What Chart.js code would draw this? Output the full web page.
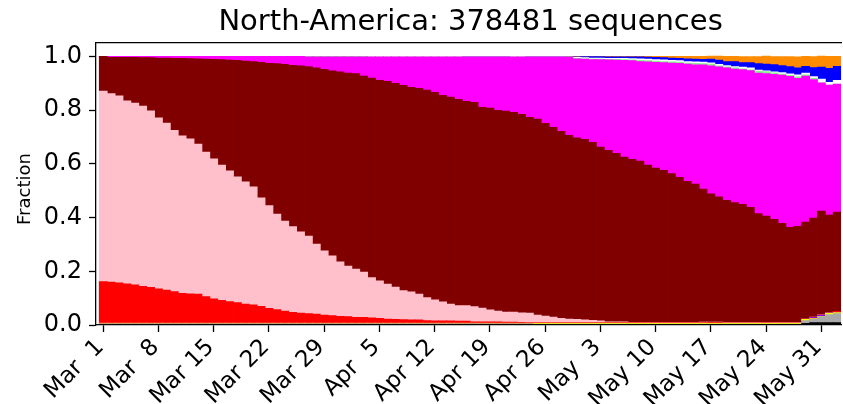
<!DOCTYPE html>
<html><head><meta charset="utf-8">
<script src="https://cdn.jsdelivr.net/npm/chart.js@4/dist/chart.umd.min.js"></script>
<style>html,body{margin:0;padding:0;background:#fff}canvas{display:block}</style>
</head><body>
<canvas id="c" width="843" height="404"></canvas>
<script>
const chartTitle = 'North-America: 378481 sequences';
const yLabel = 'Fraction';
const tickDays = [0,7,14,21,28,35,42,49,56,63,70,77,84,91];
const tickLabels = ['Mar  1','Mar  8','Mar 15','Mar 22','Mar 29','Apr  5','Apr 12','Apr 19','Apr 26','May  3','May 10','May 17','May 24','May 31'];
const yTicks = [0,0.2,0.4,0.6,0.8,1.0];

// one value per day, Mar 1 .. Jun 2 (94 days), stacked bottom -> top
const black = [
.002,.002,.002,.002,.002,.002,.002,.002,.002,.002,
.002,.002,.002,.002,.002,.002,.002,.002,.002,.002,
.002,.002,.002,.002,.002,.002,.002,.002,.002,.002,
.002,.002,.002,.002,.002,.002,.002,.002,.002,.002,
.002,.002,.002,.002,.002,.002,.002,.002,.002,.002,
.002,.002,.002,.002,.002,.001,.001,.001,.001,.001,
.001,.001,.001,.001,.001,.001,.001,.001,.001,.001,
.001,.001,.001,.001,.001,.001,.001,.001,.001,.001,
.001,.001,.001,.001,.001,.001,.001,.001,.001,.006,
.009,.009,.009,.009];
const gray = [
.001,.001,.001,.001,.001,.001,.001,.001,.001,.001,
.001,.001,.001,.001,.001,.001,.001,.001,.001,.001,
.001,.001,.001,.001,.001,.001,.001,.001,.001,.001,
.001,.001,.001,.001,.001,.001,.001,.001,.001,.001,
.001,.001,.001,.001,.001,.001,.001,.001,.001,.001,
.001,.001,.001,.001,.001,.002,.002,.002,.002,.002,
.002,.002,.002,.002,.002,.002,.002,.002,.002,.002,
.002,.002,.002,.002,.002,.002,.002,.002,.002,.002,
.002,.002,.002,.002,.002,.002,.002,.002,.002,.010,
.012,.022,.030,.033];
const yellow = [
.001,.001,.001,.001,.001,.001,.001,.001,.001,.001,
.001,.001,.001,.001,.001,.001,.001,.001,.001,.001,
.001,.001,.001,.001,.001,.001,.001,.001,.001,.001,
.001,.001,.001,.001,.001,.001,.001,.001,.001,.001,
.001,.001,.001,.001,.001,.001,.001,.001,.001,.001,
.001,.001,.001,.001,.001,.003,.003,.003,.003,.003,
.003,.003,.003,.003,.003,.003,.003,.003,.003,.003,
.003,.003,.003,.003,.003,.003,.003,.003,.003,.003,
.003,.003,.003,.003,.003,.003,.003,.003,.003,.005,
.003,.001,.004,.004];
const purple = [
.001,.001,.001,.001,.001,.001,.001,.001,.001,.001,
.001,.001,.001,.001,.001,.001,.001,.001,.001,.001,
.001,.001,.001,.001,.001,.001,.001,.001,.001,.001,
.001,.001,.001,.001,.001,.001,.001,.001,.001,.001,
.001,.001,.001,.001,.001,.001,.001,.001,.001,.001,
.001,.001,.001,.001,.001,0,0,0,0,0,
0,0,0,0,0,0,0,0,0,0,
0,0,0,0,0,0,0,0,0,0,
0,0,0,0,0,0,0,0,0,0,
.004,.005,.001,.001];
const tan = [
.002,.002,.002,.002,.002,.002,.002,.002,.002,.002,
.002,.002,.002,.002,.002,.002,.002,.002,.002,.002,
.002,.002,.002,.002,.002,.002,.002,.002,.002,.002,
.002,.002,.002,.002,.002,.002,.002,.002,.002,.002,
.002,.002,.002,.002,.002,.002,.002,.002,.002,.002,
.002,.002,.002,.002,.002,.001,.001,.001,.001,.001,
.001,.001,.001,.001,.001,.001,.001,.001,.001,.001,
.001,.001,.001,.001,.001,.001,.001,.001,.001,.001,
.001,.001,.001,.001,.001,.001,.001,.001,.001,0,
0,0,0,0];
const red = [
.154,.153,.150,.146,.142,.137,.133,.127,.123,.117,
.111,.109,.108,.099,.090,.085,.080,.076,.071,.068,
.062,.055,.050,.045,.040,.037,.035,.033,.030,.028,
.025,.024,.021,.021,.019,.018,.015,.014,.013,.012,
.012,.009,.008,.008,.008,.007,.007,.005,.005,.005,
.005,.004,.004,.003,.002,.002,.002,.002,.002,.002,
.002,.002,.002,.002,.002,.002,.002,.002,.002,.002,
.002,.002,.002,.002,.002,.002,.002,.003,.003,.001,
.001,.001,.001,.001,.002,.001,.001,.001,.001,.001,
.001,.001,.001,.004];
const pink = [
.710,.701,.696,.681,.677,.671,.657,.637,.622,.601,
.586,.577,.558,.538,.521,.503,.487,.468,.455,.439,
.404,.382,.356,.335,.319,.303,.289,.261,.239,.222,
.203,.188,.180,.169,.150,.139,.130,.120,.108,.104,
.096,.086,.078,.071,.063,.058,.058,.056,.051,.044,
.040,.037,.037,.035,.035,.028,.024,.020,.016,.013,
.012,.010,.008,.006,.003,.003,.003,.001,.001,.001,
.001,.001,.001,.001,.001,.001,.002,.001,.001,.001,
.001,.001,.001,.001,.001,.001,.001,.001,.001,0,
0,0,0,0];
const maroon = [
.129,.135,.143,.162,.170,.180,.198,.223,.242,.268,
.289,.299,.318,.346,.371,.393,.412,.434,.449,.467,
.505,.530,.560,.583,.601,.618,.631,.656,.676,.689,
.707,.719,.728,.730,.743,.747,.755,.759,.764,.762,
.766,.772,.773,.769,.770,.768,.761,.761,.747,.751,
.747,.748,.744,.739,.729,.729,.718,.707,.696,.684,
.676,.672,.663,.647,.638,.627,.613,.607,.600,.585,
.574,.566,.554,.540,.525,.514,.495,.477,.466,.455,
.447,.440,.429,.406,.395,.384,.369,.354,.358,.361,
.369,.386,.364,.369];
const magenta = [
0,.004,.004,.004,.004,.005,.005,.006,.006,.007,
.007,.008,.009,.010,.011,.012,.014,.015,.018,.019,
.022,.026,.027,.030,.033,.035,.036,.041,.046,.052,
.056,.060,.062,.071,.079,.087,.091,.098,.106,.113,
.117,.124,.132,.143,.150,.158,.165,.169,.188,.191,
.199,.202,.206,.214,.225,.232,.247,.262,.277,.291,
.294,.299,.308,.326,.337,.347,.360,.367,.371,.385,
.394,.401,.411,.424,.436,.444,.462,.477,.484,.493,
.497,.502,.509,.523,.531,.540,.552,.563,.551,.544,
.516,.477,.484,.477];
const green = [
0,0,0,0,0,0,0,0,0,0,
0,0,0,0,0,0,0,0,0,0,
0,0,0,0,0,0,.002,.002,.002,.002,
.002,.002,.002,.002,0,0,0,0,0,0,
0,0,0,0,0,0,0,0,0,0,
0,0,0,0,0,0,0,0,0,0,
.002,.001,.002,.002,.002,.003,.003,.003,.004,.004,
.004,.004,.005,.005,.004,.006,.005,.006,.004,.004,
.004,.003,.003,.007,.007,.006,.004,.003,.006,.004,
.004,0,0,0];
const white = [
0,0,0,0,0,0,0,0,0,0,
0,0,0,0,0,0,0,0,0,0,
0,0,0,0,0,0,0,0,0,0,
0,0,0,0,.002,.002,.002,.002,.002,.002,
.002,.002,.002,.002,.002,.002,0,0,0,0,
0,0,.002,.002,0,0,0,0,0,0,
.003,.004,.004,.004,.004,.004,.005,.005,.006,.006,
.006,.006,.005,.005,.006,.006,.006,.005,.005,.005,
.005,.006,.007,.004,.003,.003,.006,.006,.007,.007,
.007,.014,.010,.014];
const blue = [
0,0,0,0,0,0,0,0,0,0,
0,0,0,0,0,0,0,0,0,0,
0,0,0,0,0,0,0,0,0,0,
0,0,0,0,0,0,0,0,0,0,
0,0,0,0,0,0,.002,.002,.002,.002,
.002,.002,0,0,.002,.002,.002,.002,.002,.001,
.002,.004,.005,.005,.005,.005,.005,.006,.007,.007,
.008,.008,.009,.009,.010,.010,.010,.014,.016,.015,
.019,.017,.020,.024,.025,.027,.026,.027,.026,.025,
.033,.045,.052,.052];
const orange = [
0,0,0,0,0,0,0,0,0,0,
0,0,0,0,0,0,0,0,0,0,
0,0,0,0,0,0,0,0,0,0,
0,0,0,0,0,0,0,0,0,0,
0,0,0,0,0,0,0,0,0,0,
0,0,0,0,0,0,0,0,0,.002,
.002,.001,.001,.001,.002,.002,.002,.002,.002,.003,
.004,.005,.006,.007,.009,.010,.011,.011,.015,.019,
.019,.022,.022,.026,.030,.030,.033,.037,.041,.037,
.041,.041,.045,.037];

const series = [
  {name:'black', data:black, color:'#000000'},
  {name:'gray', data:gray, color:'#a9a9a9'},
  {name:'yellow', data:yellow, color:'#ffff00'},
  {name:'purple', data:purple, color:'#9400d3'},
  {name:'tan', data:tan, color:'#f4a460'},
  {name:'red', data:red, color:'#ff0000'},
  {name:'pink', data:pink, color:'#ffc0cb'},
  {name:'maroon', data:maroon, color:'#800000'},
  {name:'magenta', data:magenta, color:'#ff00ff'},
  {name:'lightgreen', data:green, color:'#90ee90'},
  {name:'white', data:white, color:'#ffffff'},
  {name:'blue', data:blue, color:'#0000ff'},
  {name:'orange', data:orange, color:'#ff8c00'}
];

const FONT = 'DejaVu Sans';
const textPlugin = {
  id: 'axesTexts',
  afterDraw(chart) {
    const {ctx, chartArea} = chart;
    ctx.save();
    ctx.fillStyle = '#000';
    ctx.font = '29px "' + FONT + '"';
    ctx.textAlign = 'center';
    ctx.textBaseline = 'alphabetic';
    ctx.fillText(chartTitle, (chartArea.left + chartArea.right) / 2 + 2, 30);
    ctx.translate(29.5, (chartArea.top + chartArea.bottom) / 2 + 5);
    ctx.rotate(-Math.PI / 2);
    ctx.font = '18px "' + FONT + '"';
    ctx.fillText(yLabel, 0, 0);
    ctx.restore();
  }
};

new Chart(document.getElementById('c'), {
  type: 'bar',
  data: {
    datasets: series.map(s => ({
      label: s.name,
      data: s.data.map((v, i) => ({x: i, y: v})),
      backgroundColor: s.color,
      borderWidth: 0,
      categoryPercentage: 1,
      barPercentage: 1,
      inflateAmount: 0.4
    }))
  },
  options: {
    responsive: false,
    animation: false,
    devicePixelRatio: 1,
    layout: {padding: {top: 43, left: 0, right: 0, bottom: 0}},
    plugins: {legend: {display: false}, title: {display: false}, tooltip: {enabled: false}},
    scales: {
      x: {
        type: 'linear', stacked: true, offset: false, min: -0.92, max: 93.5,
        grid: {display: true, drawOnChartArea: false, drawTicks: true, tickLength: 7, tickWidth: 1.3, tickColor: '#000', offset: false},
        border: {display: true, color: '#000', width: 1.3},
        ticks: {
          autoSkip: false, minRotation: 45, maxRotation: 45, padding: 2, labelOffset: -3, color: '#000',
          font: {family: FONT, size: 23},
          callback: v => { const k = tickDays.indexOf(v); return k >= 0 ? tickLabels[k] : ''; }
        },
        afterBuildTicks: s => { s.ticks = tickDays.map(v => ({value: v})); },
        afterFit: s => { s.height = 79; }
      },
      xTop: {
        type: 'linear', position: 'top', display: true,
        grid: {display: false}, ticks: {display: false},
        border: {display: true, color: '#000', width: 1.3},
        afterFit: s => { s.height = 0; }
      },
      y: {
        stacked: true, min: 0, max: 1.05,
        grid: {display: true, drawOnChartArea: false, drawTicks: true, tickLength: 7, tickWidth: 1.3, tickColor: '#000'},
        border: {display: true, color: '#000', width: 1.3},
        ticks: {padding: 7, color: '#000', font: {family: FONT, size: 24}, callback: v => v.toFixed(1)},
        afterBuildTicks: s => { s.ticks = yTicks.map(v => ({value: v})); },
        title: {display: false},
        afterFit: s => { s.width = 96; }
      }
    }
  },
  plugins: [textPlugin]
});
</script>
</body></html>
